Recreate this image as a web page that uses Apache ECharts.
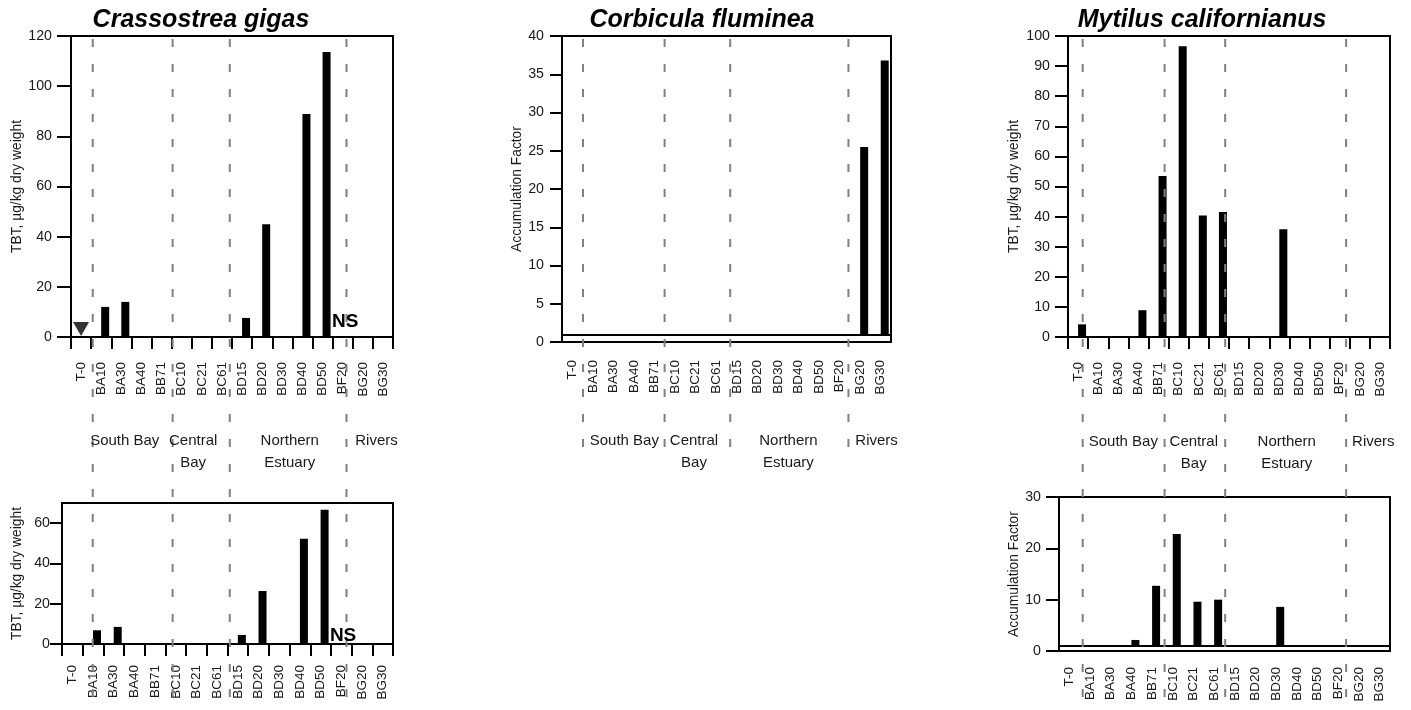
<!DOCTYPE html>
<html><head><meta charset="utf-8">
<script src="https://cdn.jsdelivr.net/npm/echarts@6/dist/echarts.min.js"></script>
<style>html,body{margin:0;padding:0;background:#fff}#c{width:1411px;height:710px}</style>
</head><body><div id="c"></div>
<script>
// ---------- data ----------
const stations = ['T-0','BA10','BA30','BA40','BB71','BC10','BC21','BC61','BD15','BD20','BD30','BD40','BD50','BF20','BG20','BG30'];
const gigasTBT      = [null, 12.0, 14.0, null, null, null, null, null, 7.6, 45.0, null, 88.9, 113.6, null, null, null];
const gigasTBTLower = [null, 6.8, 8.5, null, null, null, null, null, 4.5, 26.3, null, 52.2, 66.6, null, null, null];
const corbiculaAF   = [null, null, null, null, null, null, null, null, null, null, null, null, null, null, 25.5, 36.8];
const mytilusTBT    = [4.2, null, null, 8.9, 53.5, 96.6, 40.4, 41.5, null, null, 35.8, null, null, null, null, null];
const mytilusAF     = [null, null, null, 2.15, 12.7, 22.8, 9.6, 10.0, null, null, 8.6, null, null, null, null, null];
const gigasBelowDetection = ['T-0'];
const gigasNotSampled = ['BF20'];
const afBaseline = 1;
const gigasTicks = [0, 20, 40, 60, 80, 100, 120];
const gigasLowerTicks = [0, 20, 40, 60];
const corbiculaTicks = [0, 5, 10, 15, 20, 25, 30, 35, 40];
const mytilusTicks = [0, 10, 20, 30, 40, 50, 60, 70, 80, 90, 100];
const mytilusAFTicks = [0, 10, 20, 30];
const regionNames = ['South Bay', 'Central\nBay', 'Northern\nEstuary', 'Rivers'];
// region separators / label centres, in station-index units
const leftSeparators  = [0.58, 4.55, 7.39, 13.19];
const midSeparators   = [0.52, 4.49, 7.68, 13.43];
const rightSeparators = [0.23, 4.30, 7.31, 13.32];
const leftRegionCenters  = [2.17, 5.57, 10.37, 14.68];
const midRegionCenters   = [2.53, 5.92, 10.51, 14.80];
const rightRegionCenters = [2.25, 5.75, 10.37, 14.67];

// ---------- styling helpers ----------
const FONT = "'Liberation Sans', Arial, Helvetica, sans-serif";
const TXT = '#1a1a1a';

function xAxisFor(g, ticks, margin) {
  return {
    type: 'category', gridIndex: g, data: stations, boundaryGap: true,
    axisLine: { show: true, onZero: false, lineStyle: { color: '#000', width: 2 } },
    axisTick: { show: ticks, length: 12, interval: 0, lineStyle: { color: '#000', width: 2 } },
    axisLabel: { interval: 0, rotate: 90, margin: margin, fontFamily: FONT, fontSize: 13.5, color: TXT },
    splitLine: { show: false }
  };
}
function yAxisFor(g, o) {
  return {
    type: 'value', gridIndex: g, min: o.min, max: o.max, interval: o.interval,
    name: o.name, nameLocation: 'middle', nameGap: o.nameGap,
    nameTextStyle: { fontFamily: FONT, fontSize: 13.8, color: TXT },
    axisLine: { show: true, lineStyle: { color: '#000', width: 2 } },
    axisTick: { show: true, length: o.tickLen, customValues: o.ticks, lineStyle: { color: '#000', width: 2 } },
    axisLabel: { margin: o.labelMargin, customValues: o.ticks, fontFamily: FONT, fontSize: 14.2, color: TXT },
    splitLine: { show: false }
  };
}
function barsFor(g, values, baseline) {
  const common = { type: 'bar', xAxisIndex: g, yAxisIndex: g, barWidth: 8, barGap: '0%', silent: true };
  const out = [Object.assign({}, common, { data: values.map(() => null) })];
  if (baseline == null) {
    out.push(Object.assign({}, common, { data: values, itemStyle: { color: '#000' } }));
  } else {
    out.push(Object.assign({}, common, { stack: 's' + g, data: values.map(v => v == null ? null : baseline), itemStyle: { color: 'rgba(0,0,0,0)' } }));
    out.push(Object.assign({}, common, {
      stack: 's' + g, data: values.map(v => v == null ? null : v - baseline), itemStyle: { color: '#000' },
      markLine: { silent: true, symbol: 'none', label: { show: false }, animation: false,
        lineStyle: { color: '#000', width: 2, type: 'solid' }, emphasis: { disabled: true },
        data: [{ yAxis: baseline }] }
    }));
  }
  return out;
}
function separatorSeries(g, seps) {
  return seps.map(v => ({
    type: 'line', xAxisIndex: g, yAxisIndex: g, silent: true, symbol: 'none', z: 10,
    data: [[v, 0], [v, 1]],
    lineStyle: { color: '#808080', width: 2, type: [8, 17] }
  }));
}
function titleFor(text, cx) {
  return { text: text, left: cx, top: 8, textAlign: 'center', padding: 0,
    textStyle: { fontFamily: FONT, fontSize: 25, fontWeight: 'bold', fontStyle: 'italic', color: '#000' } };
}

const option = {
  animation: false,
  backgroundColor: '#fff',
  title: [
    titleFor('Crassostrea gigas', 201),
    titleFor('Corbicula fluminea', 702),
    titleFor('Mytilus californianus', 1202)
  ],
  grid: [
    { left: 71,   top: 36,  width: 322, height: 301, show: true, borderColor: '#000', borderWidth: 2 },
    { left: 562,  top: 36,  width: 329, height: 306, show: true, borderColor: '#000', borderWidth: 2 },
    { left: 1068, top: 36,  width: 322, height: 301, show: true, borderColor: '#000', borderWidth: 2 },
    { left: 62,   top: 503, width: 331, height: 141, show: true, borderColor: '#000', borderWidth: 2 },
    { left: 1059, top: 497, width: 331, height: 154, show: true, borderColor: '#000', borderWidth: 2 },
    { left: 71,   top: 39,  width: 322, height: 668 },
    { left: 562,  top: 39,  width: 329, height: 416 },
    { left: 1068, top: 39,  width: 322, height: 668 }
  ],
  xAxis: [
    xAxisFor(0, true, 25),
    xAxisFor(1, false, 18),
    xAxisFor(2, true, 25),
    xAxisFor(3, true, 21),
    xAxisFor(4, false, 16),
    { type: 'value', gridIndex: 5, min: -0.5, max: 15.5, show: false },
    { type: 'value', gridIndex: 6, min: -0.5, max: 15.5, show: false },
    { type: 'value', gridIndex: 7, min: -0.5, max: 15.5, show: false }
  ],
  yAxis: [
    yAxisFor(0, { min: 0, max: 120, interval: 20, ticks: gigasTicks, name: 'TBT, µg/kg dry weight', nameGap: 46, tickLen: 14, labelMargin: 19 }),
    yAxisFor(1, { min: 0, max: 40, interval: 5, ticks: corbiculaTicks, name: 'Accumulation Factor', nameGap: 36, tickLen: 12, labelMargin: 18 }),
    yAxisFor(2, { min: 0, max: 100, interval: 10, ticks: mytilusTicks, name: 'TBT, µg/kg dry weight', nameGap: 47, tickLen: 13, labelMargin: 18 }),
    yAxisFor(3, { min: 0, max: 70, interval: 10, ticks: gigasLowerTicks, name: 'TBT, µg/kg dry weight', nameGap: 38, tickLen: 12, labelMargin: 12 }),
    yAxisFor(4, { min: 0, max: 30, interval: 10, ticks: mytilusAFTicks, name: 'Accumulation Factor', nameGap: 37, tickLen: 13, labelMargin: 18 }),
    { type: 'value', gridIndex: 5, min: 0, max: 1, show: false, inverse: true },
    { type: 'value', gridIndex: 6, min: 0, max: 1, show: false, inverse: true },
    { type: 'value', gridIndex: 7, min: 0, max: 1, show: false, inverse: true }
  ],
  series: [].concat(
    barsFor(0, gigasTBT, null),
    [{
      type: 'scatter', xAxisIndex: 0, yAxisIndex: 0, silent: true, z: 5,
      data: gigasBelowDetection.map(c => [c, 0]),
      symbol: 'triangle', symbolRotate: 180, symbolSize: [16, 14], symbolOffset: [0, -8],
      itemStyle: { color: '#000' }
    }],
    barsFor(1, corbiculaAF, afBaseline),
    barsFor(2, mytilusTBT, null),
    barsFor(3, gigasTBTLower, null),
    barsFor(4, mytilusAF, afBaseline),
    separatorSeries(5, leftSeparators),
    separatorSeries(6, midSeparators),
    separatorSeries(7, rightSeparators)
  )
};

const chart = echarts.init(document.getElementById('c'), null, { renderer: 'canvas' });
chart.setOption(option);

const graphics = [];
[[5, leftRegionCenters, 430], [6, midRegionCenters, 430], [7, rightRegionCenters, 431]].forEach(([ax, centers, y]) => {
  centers.forEach((c, i) => {
    const x = chart.convertToPixel({ xAxisIndex: ax }, c);
    graphics.push({ type: 'text', x: x, y: y, z: 20, silent: true,
      style: { text: regionNames[i], fontFamily: FONT, fontSize: 15, lineHeight: 22, fill: TXT, align: 'center', verticalAlign: 'top' } });
  });
});
// "NS" (not sampled) markers, anchored to the station on each C. gigas panel
[[0, [2.6, -15.4]], [3, [1.8, -8]]].forEach(([g, off]) => {
  gigasNotSampled.forEach(st => {
    const p = chart.convertToPixel({ xAxisIndex: g, yAxisIndex: g }, [st, 0]);
    graphics.push({ type: 'text', x: p[0] + off[0], y: p[1] + off[1], z: 30, zlevel: 0, silent: true,
      style: { text: 'NS', fontFamily: FONT, fontSize: 19, fontWeight: 'bold', fill: '#000', align: 'center', verticalAlign: 'middle' } });
  });
});
chart.setOption({ graphic: graphics });
</script>
</body></html>
